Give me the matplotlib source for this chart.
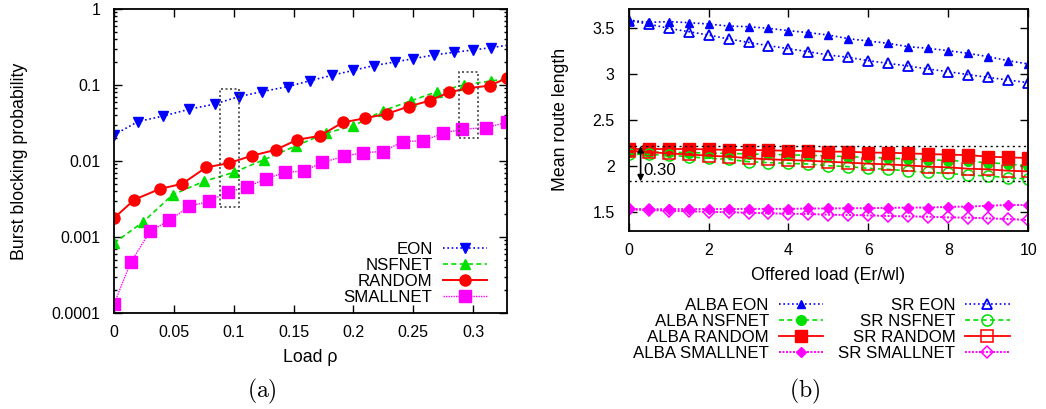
import matplotlib
matplotlib.use('Agg')
import matplotlib.pyplot as plt
from matplotlib import rcParams
from matplotlib.patches import Rectangle
from matplotlib.ticker import FixedLocator, FuncFormatter, LogLocator, NullFormatter

rcParams['font.family'] = ['Liberation Sans', 'DejaVu Sans']
rcParams['mathtext.fontset'] = 'cm'
rcParams['font.size'] = 11.5

# (a) burst blocking probability vs load
eon_x = [0, 0.020, 0.041, 0.063, 0.084, 0.104, 0.124, 0.145, 0.164, 0.182, 0.200,
         0.217, 0.235, 0.250, 0.267, 0.284, 0.300, 0.315, 0.335]
eon_y = [0.022, 0.033, 0.039, 0.048, 0.056, 0.070, 0.082, 0.095, 0.114, 0.134, 0.156,
         0.180, 0.201, 0.222, 0.248, 0.269, 0.289, 0.310, 0.345]
nsf_x = [0, 0.024, 0.049, 0.075, 0.100, 0.125, 0.152, 0.177, 0.200, 0.225, 0.248,
         0.270, 0.292, 0.315, 0.337]
nsf_y = [0.00083, 0.00156, 0.00359, 0.00538, 0.00707, 0.01035, 0.0158, 0.0232, 0.0290,
         0.0461, 0.0618, 0.0819, 0.100, 0.113, 0.126]
rnd_x = [0, 0.017, 0.038, 0.057, 0.077, 0.096, 0.115, 0.135, 0.153, 0.172, 0.191,
         0.210, 0.228, 0.246, 0.264, 0.280, 0.296, 0.314, 0.328]
rnd_y = [0.00177, 0.00309, 0.00427, 0.00501, 0.00822, 0.00937, 0.0117, 0.0140, 0.0190,
         0.0214, 0.0321, 0.0366, 0.0417, 0.0520, 0.0624, 0.0803, 0.0906, 0.0983, 0.123]
sml_x = [0, 0.014, 0.030, 0.046, 0.063, 0.079, 0.095, 0.111, 0.127, 0.143, 0.159,
         0.174, 0.192, 0.208, 0.225, 0.241, 0.258, 0.275, 0.291, 0.311, 0.328]
sml_y = [0.000131, 0.000463, 0.00118, 0.00165, 0.00252, 0.00294, 0.00389, 0.00453,
         0.00583, 0.00706, 0.00742, 0.00955, 0.01145, 0.0129, 0.0133, 0.0180, 0.0184,
         0.0232, 0.0262, 0.0275, 0.0321]
# highlighted ranges (x0, x1, y0, y1)
boxes = [(0.0886, 0.104, 0.00247, 0.089), (0.288, 0.304, 0.020, 0.150)]

# (b) mean route length vs offered load
load = [0, 0.5, 1, 1.5, 2, 2.5, 3, 3.5, 4, 4.5, 5, 5.5, 6, 6.5, 7, 7.5, 8, 8.5, 9, 9.5, 10]
alba_eon = [3.591, 3.565, 3.573, 3.562, 3.547, 3.525, 3.518, 3.500, 3.475, 3.453, 3.427,
            3.387, 3.362, 3.336, 3.300, 3.282, 3.256, 3.227, 3.191, 3.147, 3.111]
sr_eon = [3.584, 3.547, 3.500, 3.464, 3.427, 3.384, 3.347, 3.311, 3.278, 3.245, 3.209,
          3.184, 3.147, 3.118, 3.089, 3.056, 3.027, 2.995, 2.965, 2.936, 2.907]
alba_nsf = [2.155, 2.150, 2.148, 2.145, 2.140, 2.136, 2.130, 2.125, 2.120, 2.115, 2.108,
            2.100, 2.093, 2.085, 2.075, 2.068, 2.058, 2.048, 2.035, 2.020, 2.000]
sr_nsf = [2.129, 2.125, 2.118, 2.100, 2.082, 2.071, 2.045, 2.035, 2.027, 2.020, 2.002,
          1.991, 1.973, 1.962, 1.944, 1.929, 1.918, 1.900, 1.889, 1.871, 1.856]
alba_rnd = [2.184, 2.184, 2.184, 2.184, 2.180, 2.173, 2.173, 2.169, 2.165, 2.162, 2.155,
            2.155, 2.144, 2.144, 2.136, 2.129, 2.122, 2.118, 2.100, 2.093, 2.085]
sr_rnd = [2.165, 2.151, 2.136, 2.125, 2.111, 2.100, 2.085, 2.071, 2.064, 2.056, 2.045,
          2.035, 2.024, 2.016, 2.005, 1.991, 1.984, 1.969, 1.962, 1.947, 1.940]
alba_sml = [1.529, 1.527, 1.529, 1.529, 1.529, 1.529, 1.531, 1.531, 1.531, 1.535, 1.535,
            1.538, 1.538, 1.542, 1.545, 1.545, 1.553, 1.556, 1.564, 1.575, 1.571]
sr_sml = [1.525, 1.518, 1.511, 1.504, 1.500, 1.493, 1.489, 1.482, 1.478, 1.475, 1.467,
          1.464, 1.460, 1.453, 1.449, 1.445, 1.438, 1.435, 1.427, 1.420, 1.409]
spread_hi, spread_lo = 2.217, 1.830
spread_label = "0.30"

BLUE = '#0000ff'
GREEN = '#00e000'
RED = '#ff0000'
MAGENTA = '#ff00ff'
DOT_B = (0, (1, 1.6))
DASH_G = (0, (3, 2))
DOT_M = (0, (1, 0.8))
LABEL_FS = 12.8
LEGEND_FS = 12.2


def style_axes(ax):
    for sp in ax.spines.values():
        sp.set_linewidth(1.3)
    ax.tick_params(which='both', direction='in', top=True, right=True, width=1.0)
    ax.tick_params(which='major', length=5.5)
    ax.tick_params(which='minor', length=2.5)
    ax.tick_params(axis='x', which='major', pad=9)
    ax.tick_params(axis='y', which='major', pad=10)


def right_align(leg):
    for col in leg._legend_handle_box.get_children():
        col.align = 'right'


fig = plt.figure(figsize=(10.46, 4.09), dpi=100)

# ---- panel (a)
ax1 = fig.add_axes([0.109, 0.235, 0.376, 0.743])
ax1.set_yscale('log')
ax1.plot(eon_x, eon_y, color=BLUE, ls=DOT_B, lw=1.2, marker='v', ms=7, label='EON')
ax1.plot(nsf_x, nsf_y, color=GREEN, ls=DASH_G, lw=1.2, marker='^', ms=7, label='NSFNET')
ax1.plot(rnd_x, rnd_y, color=RED, ls='-', lw=1.4, marker='o', ms=8, label='RANDOM')
ax1.plot(sml_x, sml_y, color=MAGENTA, ls=DOT_M, lw=1.0, marker='s', ms=8, label='SMALLNET')
for x0, x1, y0, y1 in boxes:
    ax1.add_patch(Rectangle((x0, y0), x1 - x0, y1 - y0, fill=False, ec='#444444',
                            ls=(0, (1.2, 1.5)), lw=1.2, zorder=5))
ax1.set_xlim(0, 0.3285)
ax1.set_ylim(1e-4, 1)
ax1.xaxis.set_major_locator(FixedLocator([0, 0.05, 0.1, 0.15, 0.2, 0.25, 0.3]))
ax1.xaxis.set_major_formatter(FuncFormatter(lambda v, p: '%g' % v))
ax1.yaxis.set_major_locator(FixedLocator([1e-4, 1e-3, 1e-2, 1e-1, 1]))
ax1.yaxis.set_major_formatter(FuncFormatter(lambda v, p: '%g' % v))
ax1.yaxis.set_minor_locator(LogLocator(base=10, subs=range(2, 10)))
ax1.yaxis.set_minor_formatter(NullFormatter())
style_axes(ax1)
ax1.set_xlabel('Load ρ', fontsize=LABEL_FS, labelpad=6)
ax1.set_ylabel('Burst blocking probability', fontsize=LABEL_FS, labelpad=17)
leg1 = ax1.legend(loc='lower right', markerfirst=False, frameon=False, handlelength=2.6,
                  handletextpad=0.6, labelspacing=0.05, borderaxespad=0.0,
                  bbox_to_anchor=(0.965, 0.005), fontsize=LEGEND_FS)
right_align(leg1)

# ---- panel (b)
ax2 = fig.add_axes([0.601, 0.436, 0.382, 0.542])
ax2.plot(load, alba_eon, color=BLUE, ls=DOT_B, lw=1.2, marker='^', ms=6, label='ALBA EON')
ax2.plot(load, alba_nsf, color=GREEN, ls=DASH_G, lw=1.2, marker='o', ms=7, label='ALBA NSFNET')
ax2.plot(load, alba_rnd, color=RED, ls='-', lw=1.3, marker='s', ms=8, label='ALBA RANDOM')
ax2.plot(load, alba_sml, color=MAGENTA, ls=DOT_M, lw=1.4, marker='D', ms=5, label='ALBA SMALLNET')
ax2.plot(load, sr_eon, color=BLUE, ls=DOT_B, lw=1.2, marker='^', ms=7, mfc='none', mew=1.3,
         label='SR EON')
ax2.plot(load, sr_nsf, color=GREEN, ls=DASH_G, lw=1.2, marker='o', ms=8, mfc='none', mew=1.1,
         label='SR NSFNET')
ax2.plot(load, sr_rnd, color=RED, ls='-', lw=1.3, marker='s', ms=8, mfc='none', mew=1.1,
         label='SR RANDOM')
ax2.plot(load, sr_sml, color=MAGENTA, ls=DOT_M, lw=1.4, marker='D', ms=6, mfc='none', mew=1.1,
         label='SR SMALLNET')
ax2.axhline(spread_hi, color='black', ls=(0, (1.5, 2.5)), lw=1.0)
ax2.axhline(spread_lo, color='black', ls=(0, (1.5, 2.5)), lw=1.0)
ax2.annotate('', xy=(0.3, spread_lo), xytext=(0.3, spread_hi),
             arrowprops=dict(arrowstyle='<|-|>', color='black', lw=1.2,
                             mutation_scale=9, shrinkA=0, shrinkB=0), zorder=6)
ax2.text(0.38, (spread_hi + spread_lo) / 2 - 0.07, spread_label, ha='left', va='center',
         fontsize=LEGEND_FS)
ax2.set_xlim(0, 10)
ax2.set_ylim(1.293, 3.711)
ax2.xaxis.set_major_locator(FixedLocator([0, 2, 4, 6, 8, 10]))
ax2.yaxis.set_major_locator(FixedLocator([1.5, 2, 2.5, 3, 3.5]))
ax2.yaxis.set_major_formatter(FuncFormatter(lambda v, p: '%g' % v))
style_axes(ax2)
ax2.set_xlabel('Offered load (Er/wl)', fontsize=LABEL_FS, labelpad=6)
ax2.set_ylabel('Mean route length', fontsize=LABEL_FS, labelpad=17)
leg2 = ax2.legend(loc='upper center', bbox_to_anchor=(0.482, -0.235), ncol=2,
                  markerfirst=False, frameon=False, handlelength=2.6, handletextpad=0.6,
                  labelspacing=0.05, columnspacing=0.9, fontsize=LEGEND_FS)
right_align(leg2)

fig.text(0.2505, 0.044, r'$\mathrm{(a)}$', ha='center', va='center', fontsize=17)
fig.text(0.7695, 0.044, r'$\mathrm{(b)}$', ha='center', va='center', fontsize=17)

plt.savefig('out.png', dpi=100)
plt.close()
